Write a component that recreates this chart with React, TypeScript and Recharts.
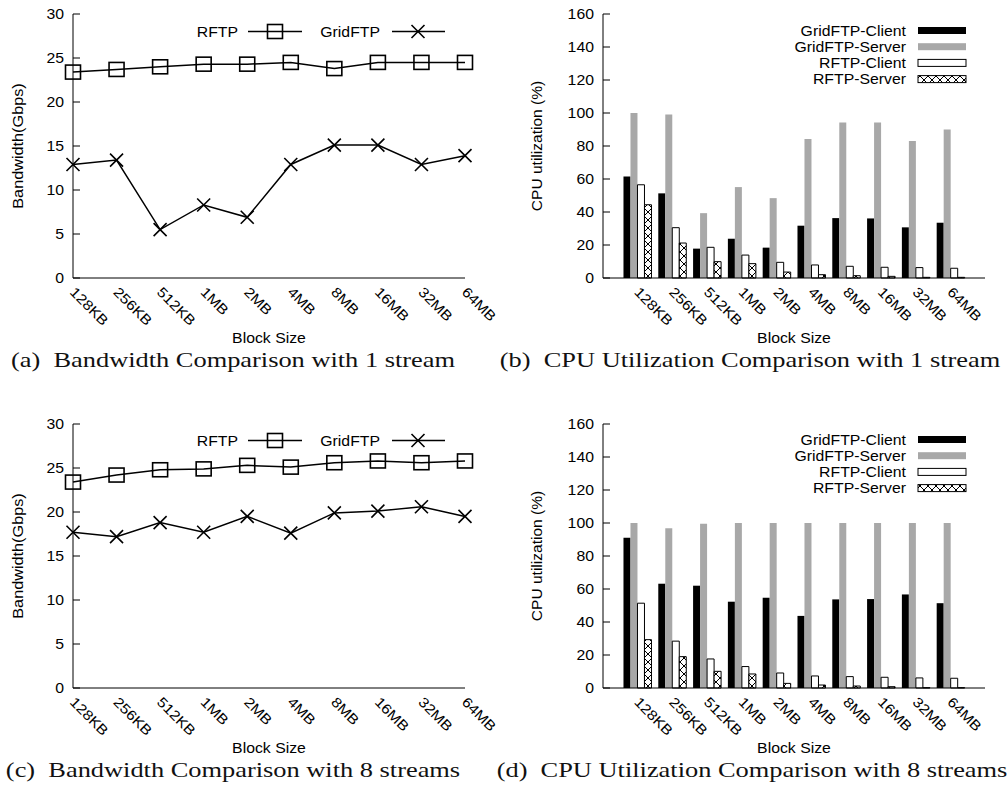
import React from "react";
import { LineChart, Line, BarChart, Bar, XAxis, YAxis, Legend } from "recharts";

// block sizes on the x axis
const blockSizes = ["128KB", "256KB", "512KB", "1MB", "2MB", "4MB", "8MB", "16MB", "32MB", "64MB"];

// bandwidth (Gbps), 1 stream
const rftpBw1 = [23.4, 23.7, 24.0, 24.3, 24.3, 24.5, 23.8, 24.5, 24.5, 24.5];
const gridBw1 = [12.9, 13.4, 5.5, 8.3, 6.9, 12.9, 15.1, 15.1, 12.9, 13.9];

// bandwidth (Gbps), 8 streams
const rftpBw8 = [23.4, 24.2, 24.8, 24.9, 25.3, 25.1, 25.6, 25.8, 25.6, 25.8];
const gridBw8 = [17.7, 17.2, 18.8, 17.7, 19.5, 17.6, 19.9, 20.1, 20.6, 19.5];

// CPU utilization (%), 1 stream
const gridClientCpu1 = [61.5, 51.3, 17.8, 23.8, 18.4, 31.7, 36.3, 36.1, 30.7, 33.5];
const gridServerCpu1 = [100, 99.1, 39.3, 55.1, 48.4, 84.3, 94.2, 94.2, 83.1, 90.0];
const rftpClientCpu1 = [56.5, 30.5, 18.6, 13.9, 9.5, 7.9, 7.1, 6.5, 6.3, 5.9];
const rftpServerCpu1 = [44.4, 21.2, 9.9, 8.7, 3.6, 2.0, 1.4, 1.0, 0.4, 0.4];

// CPU utilization (%), 8 streams
const gridClientCpu8 = [91.1, 63.2, 62.0, 52.3, 54.7, 43.7, 53.7, 53.9, 56.7, 51.4];
const gridServerCpu8 = [100, 96.8, 99.6, 100, 100, 100, 100, 100, 100, 100];
const rftpClientCpu8 = [51.4, 28.4, 17.6, 13.0, 9.1, 7.3, 6.9, 6.5, 6.1, 5.9];
const rftpServerCpu8 = [29.3, 19.0, 10.1, 8.5, 2.8, 1.8, 1.2, 0.8, 0.2, 0.2];

const bwTicks = [0, 5, 10, 15, 20, 25, 30];
const cpuTicks = [0, 20, 40, 60, 80, 100, 120, 140, 160];

const lineOrder = ["rftp", "grid"];
const barOrder = ["gridClient", "gridServer", "rftpClient", "rftpServer"];

const SANS = "'Liberation Sans', Arial, Helvetica, sans-serif";
const SERIF = "'Liberation Serif', 'Times New Roman', serif";
const FS = 14;
const STRETCH = 1.13;

const bw1 = blockSizes.map((size, i) => ({ size, rftp: rftpBw1[i], grid: gridBw1[i] }));
const bw8 = blockSizes.map((size, i) => ({ size, rftp: rftpBw8[i], grid: gridBw8[i] }));
const cpu1 = blockSizes.map((size, i) => ({
  size,
  gridClient: gridClientCpu1[i],
  gridServer: gridServerCpu1[i],
  rftpClient: rftpClientCpu1[i],
  rftpServer: rftpServerCpu1[i],
}));
const cpu8 = blockSizes.map((size, i) => ({
  size,
  gridClient: gridClientCpu8[i],
  gridServer: gridServerCpu8[i],
  rftpClient: rftpClientCpu8[i],
  rftpServer: rftpServerCpu8[i],
}));

function SText({ x, y, anchor = "start", rotate = 0, stretch = STRETCH, children }: any) {
  return (
    <text
      transform={`translate(${x},${y}) rotate(${rotate}) scale(${stretch},1)`}
      textAnchor={anchor}
      fontFamily={SANS}
      fontSize={FS}
      fill="#000"
    >
      {children}
    </text>
  );
}

const yTickLeft = (p: any) => (
  <g>
    <line x1={p.x} x2={p.x + 7} y1={p.y} y2={p.y} stroke="#000" />
    <SText x={p.x - 9} y={p.y + 5} anchor="end">
      {p.payload.value}
    </SText>
  </g>
);

const yTickRight = (p: any) => <line x1={p.x - 7} x2={p.x} y1={p.y} y2={p.y} stroke="#000" />;

const xTick = (p: any) => (
  <SText x={p.x - 4} y={p.y + 15} rotate={45}>
    {p.payload.value}
  </SText>
);

const blockSizeLabel = (p: any) => {
  const vb = p.viewBox;
  return (
    <SText x={vb.x + vb.width / 2} y={vb.y + 65} anchor="middle">
      Block Size
    </SText>
  );
};

const yLabel = (text: string, cx: number, stretch: number) => (p: any) => {
  const vb = p.viewBox;
  return (
    <SText x={vb.x + cx + 4.5} y={vb.y + vb.height / 2} anchor="middle" rotate={-90} stretch={stretch}>
      {text}
    </SText>
  );
};

const squareDot = (props: any) => {
  const { cx, cy, index } = props;
  return <rect key={`s${index}`} x={cx - 7.5} y={cy - 7} width={15} height={14} fill="none" stroke="#000" strokeWidth={1.6} />;
};

const crossDot = (props: any) => {
  const { cx, cy, index } = props;
  return (
    <path
      key={`c${index}`}
      d={`M${cx - 6.5},${cy - 6.5}L${cx + 6.5},${cy + 6.5}M${cx + 6.5},${cy - 6.5}L${cx - 6.5},${cy + 6.5}`}
      stroke="#000"
      strokeWidth={1.6}
      fill="none"
    />
  );
};

const sortByOrder = (items: any[], order: string[]) =>
  [...items].sort((a, b) => order.indexOf(String(a.dataKey)) - order.indexOf(String(b.dataKey)));

const lineLegend = (W: number, H: number, ly: number) => (props: any) => {
  const items = sortByOrder(props.payload || [], lineOrder);
  const slots = [
    { textEnd: 238, x1: 248, x2: 302, mark: 275 },
    { textEnd: 380, x1: 392, x2: 445, mark: 418 },
  ];
  return (
    <svg width={W} height={H} style={{ pointerEvents: "none" }}>
      {items.map((it: any, i: number) => {
        const s = slots[i];
        const marker = it.dataKey === "rftp" ? squareDot : crossDot;
        return (
          <g key={i}>
            <SText x={s.textEnd} y={ly + 5} anchor="end">
              {it.value}
            </SText>
            <line x1={s.x1} x2={s.x2} y1={ly} y2={ly} stroke="#000" strokeWidth={1.5} />
            {marker({ cx: s.mark, cy: ly, index: "l" })}
          </g>
        );
      })}
    </svg>
  );
};

const barSwatch = (key: string, x: number, y: number) => {
  const w = 48;
  const h = 7;
  if (key === "gridClient") return <rect x={x} y={y - h / 2} width={w} height={h} fill="#000" />;
  if (key === "gridServer") return <rect x={x} y={y - h / 2} width={w} height={h} fill="#a8a8a8" />;
  if (key === "rftpClient") return <rect x={x} y={y - h / 2} width={w} height={h} fill="#fff" stroke="#000" />;
  return <rect x={x} y={y - h / 2} width={w} height={h} fill="url(#hatch)" stroke="#000" />;
};

const barLegend = (W: number, H: number, ly: number) => (props: any) => {
  const items = sortByOrder(props.payload || [], barOrder);
  return (
    <svg width={W} height={H} style={{ pointerEvents: "none" }}>
      {items.map((it: any, i: number) => (
        <g key={i}>
          <SText x={406} y={ly + 16.2 * i + 5} anchor="end">
            {it.value}
          </SText>
          {barSwatch(String(it.dataKey), 418, ly + 16.2 * i)}
        </g>
      ))}
    </svg>
  );
};

function BandwidthPanel({ data, left, top, legendY }: any) {
  const W = 500;
  const H = 380;
  return (
    <div style={{ position: "absolute", left, top, width: W, height: H }}>
      <LineChart width={W} height={H} data={data} margin={{ top: 14, right: 35, bottom: 32, left: 0 }}>
        <XAxis
          dataKey="size"
          scale="point"
          padding={{ left: 0, right: 0 }}
          interval={0}
          height={70}
          tickSize={0}
          tickMargin={0}
          tickLine={false}
          axisLine={{ stroke: "#000" }}
          tick={xTick}
          label={blockSizeLabel}
        />
        <XAxis
          xAxisId="top"
          orientation="top"
          dataKey="size"
          scale="point"
          height={0}
          tick={false}
          tickLine={false}
          axisLine={{ stroke: "#000" }}
        />
        <YAxis
          domain={[0, 30]}
          ticks={bwTicks}
          width={73}
          tickSize={0}
          tickMargin={0}
          tickLine={false}
          axisLine={{ stroke: "#000" }}
          tick={yTickLeft}
          label={yLabel("Bandwidth(Gbps)", 18, 1.16)}
        />
        <YAxis
          yAxisId="right"
          orientation="right"
          domain={[0, 30]}
          ticks={bwTicks}
          width={0}
          tickSize={0}
          tickMargin={0}
          tickLine={false}
          axisLine={{ stroke: "#000" }}
          tick={yTickRight}
        />
        <Legend
          layout="vertical"
          verticalAlign="middle"
          align="center"
          content={lineLegend(W, H, legendY)}
          wrapperStyle={{ left: 0, top: 0, width: W, height: H }}
        />
        <Line
          dataKey="rftp"
          name="RFTP"
          stroke="#000"
          strokeWidth={1.5}
          dot={squareDot}
          activeDot={false}
          isAnimationActive={false}
        />
        <Line
          dataKey="grid"
          name="GridFTP"
          stroke="#000"
          strokeWidth={1.5}
          dot={crossDot}
          activeDot={false}
          isAnimationActive={false}
        />
      </LineChart>
    </div>
  );
}

function CpuPanel({ data, left, top, legendY }: any) {
  const W = 508;
  const H = 380;
  return (
    <div style={{ position: "absolute", left, top, width: W, height: H }}>
      <BarChart
        width={W}
        height={H}
        data={data}
        margin={{ top: 14, right: 23, bottom: 32, left: 0 }}
        barCategoryGap="10%"
        barGap={0}
      >
        <XAxis
          dataKey="size"
          padding={{ left: 17, right: 17 }}
          interval={0}
          height={70}
          tickSize={0}
          tickMargin={0}
          tickLine={false}
          axisLine={{ stroke: "#000" }}
          tick={xTick}
          label={blockSizeLabel}
        />
        <XAxis
          xAxisId="top"
          orientation="top"
          dataKey="size"
          height={0}
          tick={false}
          tickLine={false}
          axisLine={{ stroke: "#000" }}
        />
        <YAxis
          domain={[0, 160]}
          ticks={cpuTicks}
          width={103}
          tickSize={0}
          tickMargin={0}
          tickLine={false}
          axisLine={{ stroke: "#000" }}
          tick={yTickLeft}
          label={yLabel("CPU utilization (%)", 37, 1.11)}
        />
        <YAxis
          yAxisId="right"
          orientation="right"
          domain={[0, 160]}
          ticks={cpuTicks}
          width={0}
          tickSize={0}
          tickMargin={0}
          tickLine={false}
          axisLine={{ stroke: "#000" }}
          tick={yTickRight}
        />
        <Legend
          layout="vertical"
          verticalAlign="middle"
          align="center"
          content={barLegend(W, H, legendY)}
          wrapperStyle={{ left: 0, top: 0, width: W, height: H }}
        />
        <Bar dataKey="gridClient" name="GridFTP-Client" fill="#000" isAnimationActive={false} />
        <Bar dataKey="gridServer" name="GridFTP-Server" fill="#a8a8a8" isAnimationActive={false} />
        <Bar dataKey="rftpClient" name="RFTP-Client" fill="#fff" stroke="#000" strokeWidth={1} isAnimationActive={false} />
        <Bar dataKey="rftpServer" name="RFTP-Server" fill="url(#hatch)" stroke="#000" strokeWidth={1} isAnimationActive={false} />
      </BarChart>
    </div>
  );
}

const captions = [
  { text: "(a)  Bandwidth Comparison with 1 stream", x: 233, y: 367 },
  { text: "(b)  CPU Utilization Comparison with 1 stream", x: 750, y: 367 },
  { text: "(c)  Bandwidth Comparison with 8 streams", x: 233, y: 777 },
  { text: "(d)  CPU Utilization Comparison with 8 streams", x: 752, y: 777 },
];

export default function App() {
  return (
    <div style={{ position: "absolute", left: 0, top: 0, width: 1008, height: 785, background: "#fff" }}>
      <svg width={0} height={0} style={{ position: "absolute" }}>
        <defs>
          <pattern id="hatch" patternUnits="userSpaceOnUse" width={8} height={8}>
            <rect width={8} height={8} fill="#fff" />
            <path d="M0,0L8,8M8,0L0,8" stroke="#000" strokeWidth={1} />
          </pattern>
        </defs>
      </svg>
      <BandwidthPanel data={bw1} left={0} top={0} legendY={31.5} />
      <CpuPanel data={cpu1} left={500} top={0} legendY={30.5} />
      <BandwidthPanel data={bw8} left={0} top={410} legendY={30.5} />
      <CpuPanel data={cpu8} left={500} top={410} legendY={29.5} />
      <svg width={1008} height={785} style={{ position: "absolute", left: 0, top: 0, pointerEvents: "none" }}>
        {captions.map((c) => (
          <text
            key={c.text}
            transform={`translate(${c.x},${c.y}) scale(1.2,1)`}
            textAnchor="middle"
            fontFamily={SERIF}
            fontSize={22}
            fill="#111"
            style={{ whiteSpace: "pre" }}
          >
            {c.text}
          </text>
        ))}
      </svg>
    </div>
  );
}
